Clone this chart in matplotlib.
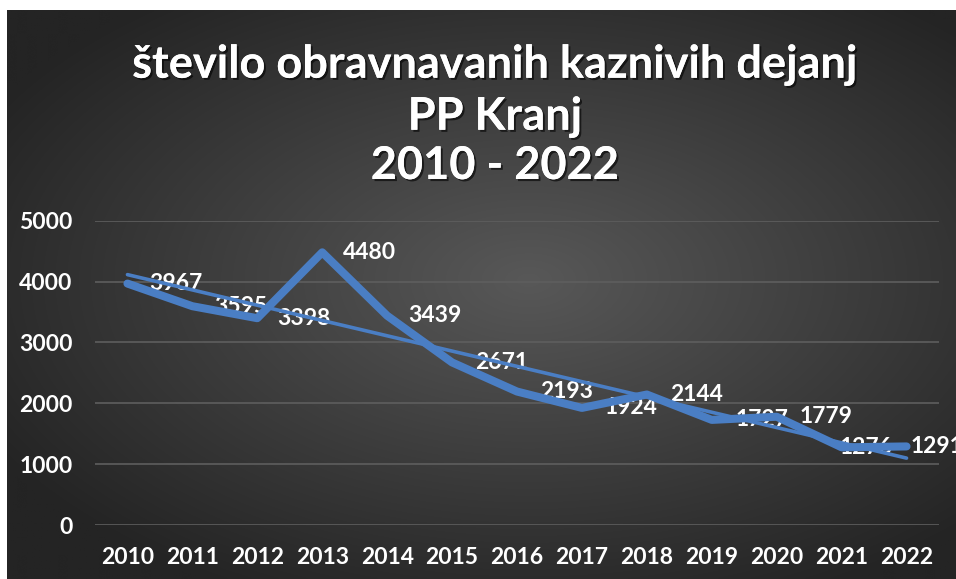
import numpy as np
import matplotlib
matplotlib.use("Agg")
import matplotlib.pyplot as plt
import matplotlib.patheffects as pe

years = ["2010", "2011", "2012", "2013", "2014", "2015", "2016",
         "2017", "2018", "2019", "2020", "2021", "2022"]
values = [3967, 3595, 3398, 4480, 3439, 2671, 2193, 1924, 2144, 1727, 1779, 1276, 1291]
title_lines = ["število obravnavanih kaznivih dejanj", "PP Kranj", "2010 - 2022"]

# horizontal offset (px) of each data label's left edge from its point
label_dx_px = [22, 22, 20, 21, 21, 23, 23, 23, 23, 24, 23, -2, 4]

W, H = 956, 579
fig = plt.figure(figsize=(W / 100, H / 100), dpi=100)
fig.patch.set_facecolor("white")

# gradient background panel
bg = fig.add_axes([7 / W, 0, (W - 7) / W, (H - 10) / H])
bg.set_axis_off()
nx, ny = 400, 240
gx = np.linspace(-1, 1, nx)
gy = np.linspace(-1, 1, ny)
X, Y = np.meshgrid(gx, gy)
R = np.sqrt(((X - 0.1) / 1.0) ** 2 + ((Y + 0.05) / 0.95) ** 2)
R = np.clip(R, 0, 1.3) / 1.3
inner = np.array([0x58, 0x58, 0x58]) / 255
outer = np.array([0x24, 0x24, 0x24]) / 255
img = inner[None, None, :] * (1 - R[..., None]) + outer[None, None, :] * R[..., None]
bg.imshow(img, aspect="auto", extent=[0, 1, 0, 1], interpolation="bilinear")
bg.set_xlim(0, 1)
bg.set_ylim(0, 1)

font = "Lato"
ax = fig.add_axes([95 / W, (H - 525) / H, (939 - 95) / W, (525 - 220.7) / H])
ax.set_facecolor("none")
x = np.arange(len(years))
ax.set_xlim(-0.5, len(years) - 0.5)
ax.set_ylim(0, 5000)
ax.set_yticks(np.arange(0, 5001, 1000))
ax.yaxis.grid(True, color="#5e5e5e", lw=1.2)
ax.set_axisbelow(True)
for s in ax.spines.values():
    s.set_visible(False)
ax.tick_params(length=0, colors="white")
ax.tick_params(axis="y", pad=16)
ax.tick_params(axis="x", pad=16)
ax.set_xticks(x)
ax.set_xticklabels(years)
for lab in ax.get_xticklabels() + ax.get_yticklabels():
    lab.set_fontfamily(font)
    lab.set_fontweight("bold")
    lab.set_fontsize(16.5)
    lab.set_color("white")

color = "#4a7ec4"
ax.plot(x, values, color=color, lw=5.8, solid_joinstyle="round",
        solid_capstyle="round", zorder=3)
coef = np.polyfit(x, values, 1)
trend = np.polyval(coef, x)
ax.plot(x, trend, color=color, lw=2.6, solid_capstyle="round", zorder=3)

for xi, v, dx in zip(x, values, label_dx_px):
    ax.annotate(str(v), (xi, v), xytext=(dx * 0.72, 0), textcoords="offset points",
                ha="left", va="center", color="white", fontsize=16.5,
                fontweight="bold", fontfamily=font, zorder=2,
                annotation_clip=False)

shadow = [pe.withSimplePatchShadow(offset=(1.5, -1.5), shadow_rgbFace="black", alpha=0.6), pe.Normal()]
ys = [65, 117, 166]
for t, yy in zip(title_lines, ys):
    fig.text(495 / W, 1 - yy / H, t, ha="center", va="center", color="white",
             fontsize=32.5, fontweight="bold", fontfamily=font, path_effects=shadow)

fig.savefig("out.png", dpi=100, facecolor=fig.get_facecolor())
